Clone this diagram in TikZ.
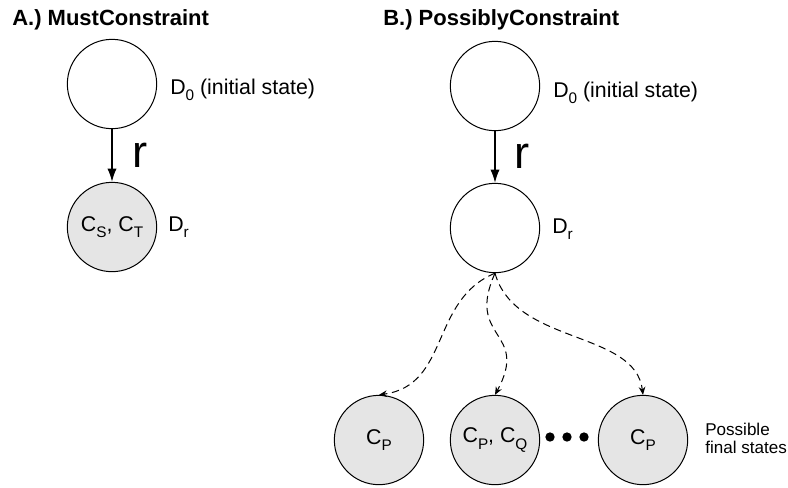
\documentclass[tikz,border=0pt]{standalone}
\usepackage{fontspec}
\setmainfont{Liberation Sans}
\usetikzlibrary{arrows.meta}
\newcommand{\sbs}[1]{\raisebox{-0.3em}{\fontsize{11.5}{13}\selectfont #1}}

\begin{document}
\begin{tikzpicture}[x=0.75pt,y=-0.75pt,
  state/.style={circle, draw, line width=0.75pt, minimum size=67pt, inner sep=0pt,
    font=\fontsize{16}{19}\selectfont},
  final/.style={state, fill=black!10},
  lbl/.style={anchor=base west, inner sep=0pt, font=\fontsize{16}{19}\selectfont},
  title/.style={anchor=base west, inner sep=0pt, font=\fontsize{16.5}{20}\selectfont\bfseries},
  rlbl/.style={anchor=base west, inner sep=0pt, font=\fontsize{34}{40}\selectfont},
  dot/.style={circle, fill=black, minimum size=7pt, inner sep=0pt},
  rarrow/.style={line width=1.1pt, -{Latex[length=10pt, width=7pt]}},
  maybe/.style={line width=0.75pt, dash pattern=on 5.5pt off 3.5pt, -{Stealth[length=6pt, width=5pt]}}]
\useasboundingbox (0,0) rectangle (788,487);
% titles
\node[title] (ta) at (12,25) {A.) MustConstraint};
\node[title] (tb) at (383,25) {B.) PossiblyConstraint};
% draws states
\node[state] (a0) at (112,84) {};
\node[final] (ar) at (112,227) {C\sbs{S}, C\sbs{T}};
\node[state] (b0) at (495,86) {};
\node[state] (br) at (495,228) {};
\node[final] (p1) at (379,440) {C\sbs{P}};
\node[final] (p2) at (495,440) {C\sbs{P}, C\sbs{Q}};
\node[final] (p3) at (643,440) {C\sbs{P}};
\foreach \x in {550,567,584}
  \node[dot] (dot\x) at (\x,437) {};
% labels states
\node[lbl] (a0lbl) at (170,94) {D\sbs{0} (initial state)};
\node[lbl] (arlbl) at (168,231) {D\sbs{r}};
\node[lbl] (b0lbl) at (553,97) {D\sbs{0} (initial state)};
\node[lbl] (brlbl) at (552,233) {D\sbs{r}};
\node[anchor=north west, inner sep=0pt, align=left, font=\fontsize{12.8}{13.5}\selectfont]
  (final) at (705,423) {Possible\\final states};
% draws transitions
\node[rlbl] (ra) at (132,167) {r};
\node[rlbl] (rb) at (514,168) {r};
\draw[rarrow] (a0) -- (ar);
\draw[rarrow] (b0) -- (br);
\draw[maybe] (br.south) .. controls (430,300) and (450,385) .. (p1.north);
\draw[maybe] (br.south) .. controls (465,340) and (530,330) .. (p2.north);
\draw[maybe] (br.south) .. controls (515,345) and (635,330) .. (p3.north);
\end{tikzpicture}
\end{document}
